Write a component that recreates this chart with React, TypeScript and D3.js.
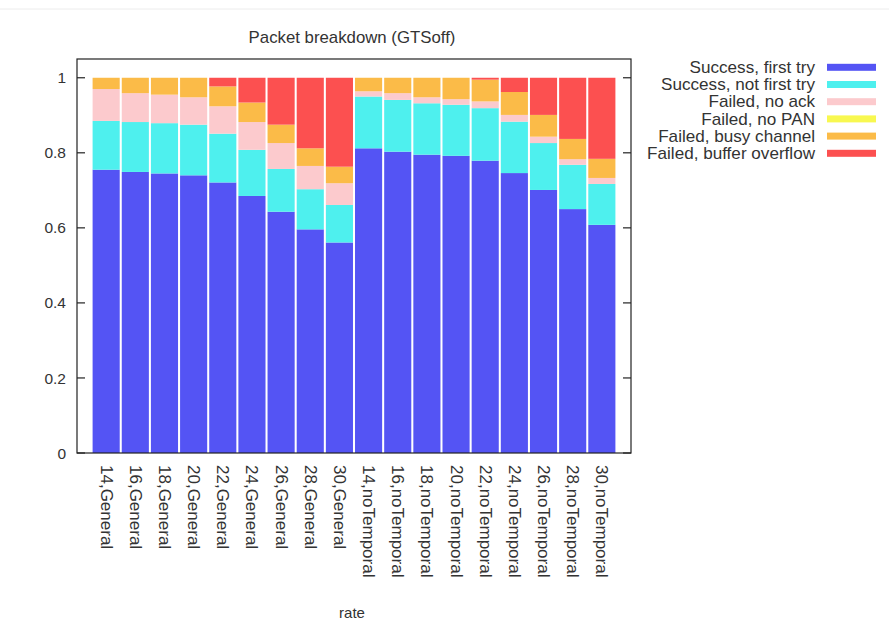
import React from "react";
import * as d3 from "d3";

const categories = [
  "14,General", "16,General", "18,General", "20,General", "22,General", "24,General",
  "26,General", "28,General", "30,General",
  "14,noTemporal", "16,noTemporal", "18,noTemporal", "20,noTemporal", "22,noTemporal",
  "24,noTemporal", "26,noTemporal", "28,noTemporal", "30,noTemporal",
];

const seriesNames = [
  "Success, first try",
  "Success, not first try",
  "Failed, no ack",
  "Failed, no PAN",
  "Failed, busy channel",
  "Failed, buffer overflow",
];

const successFirst = [0.755, 0.749, 0.745, 0.740, 0.721, 0.685, 0.643, 0.596, 0.561,
  0.812, 0.803, 0.795, 0.792, 0.779, 0.746, 0.701, 0.650, 0.608];
const successNotFirst = [0.130, 0.133, 0.134, 0.135, 0.130, 0.123, 0.114, 0.107, 0.100,
  0.138, 0.138, 0.137, 0.136, 0.140, 0.137, 0.125, 0.118, 0.109];
const failedNoAck = [0.085, 0.077, 0.076, 0.073, 0.073, 0.074, 0.069, 0.062, 0.058,
  0.014, 0.018, 0.016, 0.015, 0.018, 0.018, 0.017, 0.015, 0.016];
const failedNoPan = [0, 0, 0, 0, 0, 0, 0, 0, 0, 0, 0, 0, 0, 0, 0, 0, 0, 0];
const failedBusy = [0.030, 0.041, 0.045, 0.052, 0.053, 0.052, 0.049, 0.047, 0.044,
  0.036, 0.041, 0.052, 0.057, 0.058, 0.061, 0.058, 0.054, 0.051];
const failedOverflow = [0, 0, 0, 0, 0.023, 0.066, 0.125, 0.188, 0.237,
  0, 0, 0, 0, 0.005, 0.038, 0.099, 0.163, 0.216];

const yTicks = [0, 0.2, 0.4, 0.6, 0.8, 1];
const yTickLabels = ["0", "0.2", "0.4", "0.6", "0.8", "1"];

const colors = ["#5454f4", "#4ef0ee", "#fccacd", "#f8f850", "#fbbb48", "#fc5050"];

const W = 889;
const H = 620;
const plotL = 77;
const plotR = 631;
const plotT = 59;
const plotB = 453;

export default function App() {
  const allSeries = [successFirst, successNotFirst, failedNoAck, failedNoPan, failedBusy, failedOverflow];
  const rows = categories.map((c, i) => {
    const o: any = { cat: c };
    seriesNames.forEach((s, k) => (o[s] = allSeries[k][i]));
    return o;
  });
  const stacked = d3.stack<any>().keys(seriesNames)(rows);

  const x = d3.scaleLinear().domain([-1, categories.length]).range([plotL, plotR]);
  const y = d3.scaleLinear().domain([0, 1.05]).range([plotB, plotT]);
  const bw = (x(1) - x(0)) * 0.93;

  const font = "'Liberation Sans', Arial, sans-serif";
  const textColor = "#333";

  return (
    <svg width={W} height={H} style={{ position: "absolute", left: 0, top: 0, background: "#fff" }}
      fontFamily={font}>
      <rect x={0} y={0} width={W} height={H} fill="#fff" />
      <line x1={0} x2={W} y1={9} y2={9} stroke="#ececec" strokeWidth={1} />
      <text transform="translate(352,37) scale(1.05,1)" dy="0.36em" textAnchor="middle"
        fontSize={16} fill={textColor}>
        Packet breakdown (GTSoff)
      </text>

      {stacked.map((layer, k) => (
        <g key={layer.key} fill={colors[k]}>
          {layer.map((d, i) => {
            const h = y(d[0]) - y(d[1]);
            if (h <= 0) return null;
            return (
              <rect key={i} x={x(i) - bw / 2} y={y(d[1])} width={bw} height={h} />
            );
          })}
        </g>
      ))}

      <rect x={plotL} y={plotT} width={plotR - plotL} height={plotB - plotT}
        fill="none" stroke="#222" strokeWidth={1.2} />

      {yTicks.map((t, i) => (
        <g key={t}>
          <line x1={plotL} x2={plotL + 8} y1={y(t)} y2={y(t)} stroke="#222" strokeWidth={1.2} />
          <line x1={plotR} x2={plotR - 8} y1={y(t)} y2={y(t)} stroke="#222" strokeWidth={1.2} />
          <text x={66} y={y(t)} dy="0.36em" textAnchor="end" fontSize={15.5} fill={textColor}>
            {yTickLabels[i]}
          </text>
        </g>
      ))}

      {categories.map((c, i) => (
        <text key={c} transform={`translate(${x(i)},${465}) rotate(90)`} textAnchor="start"
          dominantBaseline="central" fontSize={17} fill={textColor}>
          {c}
        </text>
      ))}

      <text x={352} y={618} textAnchor="middle" fontSize={15} fill={textColor}>rate</text>

      {seriesNames.map((s, k) => {
        const ry = 67.3 + k * 17.2;
        return (
          <g key={s}>
            <text transform={`translate(815,${ry}) scale(1.07,1)`} dy="0.36em" textAnchor="end"
              fontSize={16} fill={textColor}>
              {s}
            </text>
            <rect x={827} y={ry - 3.5} width={49} height={7} fill={colors[k]} />
          </g>
        );
      })}
    </svg>
  );
}
